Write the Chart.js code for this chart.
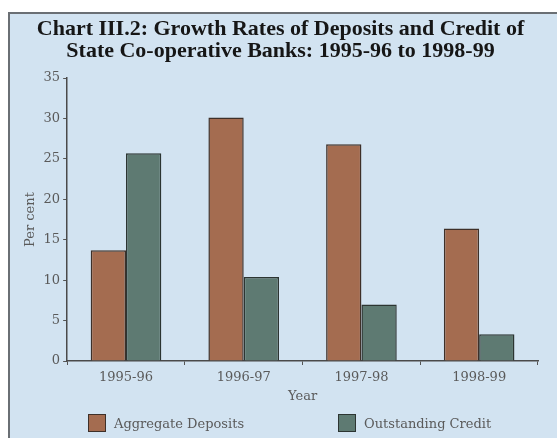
<!DOCTYPE html>
<html>
<head>
<meta charset="utf-8">
<script src="https://cdn.jsdelivr.net/npm/chart.js@4"></script>
<style>
  html, body { margin: 0; padding: 0; background: #ffffff; }
  #wrap { position: absolute; left: 0; top: 0; width: 557px; height: 438px; }
  #legend { position: absolute; left: 88px; top: 413px; height: 20px; white-space: nowrap;
            font-family: "DejaVu Serif", "Liberation Serif", serif; font-size: 13px; color: #5a5a5a; }
  .item { display: inline-flex; align-items: center; width: 250px; height: 20px; }
  .swatch { display: inline-block; width: 16px; height: 16px; margin-right: 8px; box-sizing: content-box; }
</style>
</head>
<body>
<div id="wrap">
  <canvas id="c" width="557" height="438"></canvas>
  <div id="legend"></div>
</div>
<script>
// Growth rates (per cent) of State Co-operative Banks
const years = ['1995-96', '1996-97', '1997-98', '1998-99'];
const aggregateDeposits = [13.7, 30.1, 26.8, 16.4];
const outstandingCredit = [25.7, 10.4, 7.0, 3.3];
const yTicks = [0, 5, 10, 15, 20, 25, 30, 35];

const SERIF = '"Liberation Serif", "DejaVu Serif", serif';
const SMALL = '"DejaVu Serif", "Liberation Serif", serif';

// Light blue panel with a dark edge on the left and top
const panelPlugin = {
  id: 'panel',
  beforeDraw(chart) {
    const ctx = chart.ctx;
    ctx.save();
    ctx.fillStyle = '#d2e3f1';
    ctx.fillRect(8, 12, chart.width - 8, chart.height - 12);
    ctx.strokeStyle = '#6a6f74';
    ctx.lineWidth = 2;
    ctx.beginPath();
    ctx.moveTo(9, chart.height);
    ctx.lineTo(9, 13);
    ctx.lineTo(chart.width, 13);
    ctx.stroke();
    ctx.restore();
  }
};

// HTML legend built from the chart's datasets
const htmlLegendPlugin = {
  id: 'htmlLegend',
  afterUpdate(chart) {
    const box = document.getElementById('legend');
    box.innerHTML = '';
    chart.data.datasets.forEach(ds => {
      const item = document.createElement('span');
      item.className = 'item';
      const sw = document.createElement('span');
      sw.className = 'swatch';
      sw.style.background = ds.backgroundColor;
      sw.style.border = '1.5px solid ' + ds.borderColor;
      const txt = document.createElement('span');
      txt.textContent = ds.label;
      item.appendChild(sw);
      item.appendChild(txt);
      box.appendChild(item);
    });
  }
};

new Chart(document.getElementById('c'), {
  type: 'bar',
  data: {
    labels: years,
    datasets: [
      {
        label: 'Aggregate Deposits',
        data: aggregateDeposits,
        backgroundColor: '#a46c50',
        borderColor: '#3e3029',
        borderWidth: 1.5,
        categoryPercentage: 0.6,
        barPercentage: 1.0
      },
      {
        label: 'Outstanding Credit',
        data: outstandingCredit,
        backgroundColor: '#5e7a72',
        borderColor: '#2c3532',
        borderWidth: 1.5,
        categoryPercentage: 0.6,
        barPercentage: 1.0
      }
    ]
  },
  options: {
    responsive: false,
    animation: false,
    devicePixelRatio: 1,
    layout: { padding: { left: 23, right: 19, top: 0, bottom: 35 } },
    plugins: {
      title: {
        display: true,
        text: ['Chart III.2: Growth Rates of Deposits and Credit of',
               'State Co-operative Banks: 1995-96 to 1998-99'],
        color: '#161616',
        font: { family: SERIF, size: 22, weight: 'bold', lineHeight: 1.0 },
        padding: { top: 18, bottom: 16 }
      },
      legend: { display: false },
      tooltip: { enabled: false }
    },
    scales: {
      x: {
        offset: true,
        grid: {
          display: true,
          offset: true,
          drawOnChartArea: false,
          drawTicks: true,
          tickLength: 4,
          color: '#555555'
        },
        border: { display: true, color: '#4a4a4a', width: 1.5 },
        ticks: { color: '#5a5a5a', font: { family: SMALL, size: 13, lineHeight: 1.0 }, padding: 6 },
        title: {
          display: true,
          text: 'Year',
          color: '#5a5a5a',
          font: { family: SMALL, size: 13, lineHeight: 1.0 },
          padding: { top: 0, bottom: 0 }
        }
      },
      y: {
        min: 0,
        max: 35,
        afterBuildTicks(scale) { scale.ticks = yTicks.map(v => ({ value: v })); },
        grid: {
          display: true,
          drawOnChartArea: false,
          drawTicks: true,
          tickLength: 4,
          color: '#555555'
        },
        border: { display: true, color: '#4a4a4a', width: 1.5 },
        ticks: { color: '#5a5a5a', font: { family: SMALL, size: 13 }, padding: 3 },
        title: {
          display: true,
          text: 'Per cent',
          color: '#5a5a5a',
          font: { family: SMALL, size: 13 },
          padding: { top: 0, bottom: 2 }
        }
      }
    }
  },
  plugins: [panelPlugin, htmlLegendPlugin]
});
</script>
</body>
</html>
